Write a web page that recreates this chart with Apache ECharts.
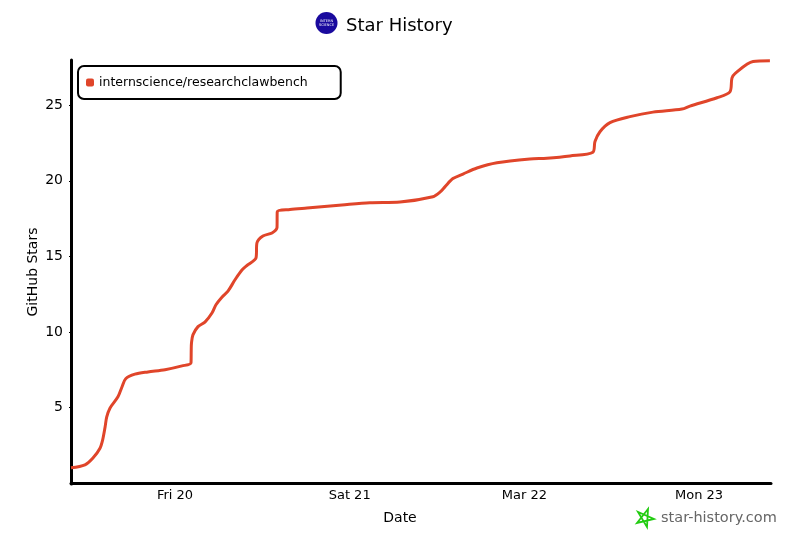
<!DOCTYPE html>
<html>
<head>
<meta charset="utf-8">
<style>html,body{margin:0;padding:0;background:#fff}#c{width:800px;height:533px}</style>
<script src="https://cdn.jsdelivr.net/npm/echarts@6/dist/echarts.min.js"></script>
</head>
<body>
<div id="c"></div>
<script>
const seriesName = 'internscience/researchclawbench';
const times = ['2026-03-19T09:43Z','2026-03-19T11:38Z','2026-03-19T12:44Z','2026-03-19T13:42Z','2026-03-19T14:04Z','2026-03-19T14:23Z','2026-03-19T14:37Z','2026-03-19T15:04Z','2026-03-19T16:10Z','2026-03-19T16:43Z','2026-03-19T17:14Z','2026-03-19T18:30Z','2026-03-19T20:17Z','2026-03-19T22:38Z','2026-03-20T00:58Z','2026-03-20T02:12Z','2026-03-20T02:14Z','2026-03-20T02:16Z','2026-03-20T02:28Z','2026-03-20T03:10Z','2026-03-20T04:07Z','2026-03-20T05:05Z','2026-03-20T05:38Z','2026-03-20T06:27Z','2026-03-20T07:17Z','2026-03-20T08:15Z','2026-03-20T09:12Z','2026-03-20T10:02Z','2026-03-20T11:08Z','2026-03-20T11:16Z','2026-03-20T12:05Z','2026-03-20T13:20Z','2026-03-20T14:01Z','2026-03-20T14:03Z','2026-03-20T15:48Z','2026-03-20T18:08Z','2026-03-20T22:56Z','2026-03-21T02:47Z','2026-03-21T06:55Z','2026-03-21T11:26Z','2026-03-21T12:24Z','2026-03-21T13:05Z','2026-03-21T14:11Z','2026-03-21T15:34Z','2026-03-21T17:29Z','2026-03-21T20:14Z','2026-03-22T00:46Z','2026-03-22T03:06Z','2026-03-22T06:16Z','2026-03-22T09:25Z','2026-03-22T09:42Z','2026-03-22T10:23Z','2026-03-22T11:46Z','2026-03-22T14:30Z','2026-03-22T17:40Z','2026-03-22T21:39Z','2026-03-22T22:45Z','2026-03-23T02:28Z','2026-03-23T04:15Z','2026-03-23T04:31Z','2026-03-23T04:56Z','2026-03-23T07:25Z','2026-03-23T09:44Z'];
const stars = [1.0,1.2,1.65,2.3,2.85,3.65,4.35,4.95,5.7,6.35,6.9,7.2,7.35,7.5,7.75,7.95,8.8,9.25,9.8,10.35,10.65,11.25,11.8,12.3,12.7,13.45,14.1,14.45,14.9,15.9,16.35,16.55,16.9,17.95,18.1,18.2,18.4,18.55,18.6,18.95,19.25,19.6,20.15,20.45,20.85,21.2,21.45,21.5,21.65,21.9,22.6,23.25,23.85,24.25,24.55,24.75,24.95,25.5,25.9,26.8,27.1,27.9,27.95];
const xTickDates = ['2026-03-20T00:00Z','2026-03-21T00:00Z','2026-03-22T00:00Z','2026-03-23T00:00Z'];
const xTickLabels = ['Fri 20','Sat 21','Mar 22','Mon 23'];
const xMin = '2026-03-19T09:43Z';
const xMax = '2026-03-23T09:53Z';
const yTickValues = [5,10,15,20,25];

const font = '"DejaVu Sans"';
const xTicks = xTickDates.map(d => Date.parse(d));
const chart = echarts.init(document.getElementById('c'), null, {renderer:'canvas'});
chart.setOption({
  animation:false,
  backgroundColor:'#fff',
  textStyle:{fontFamily:font,color:'#000'},
  title:{text:'Star History',left:341,top:12,textStyle:{fontFamily:font,fontSize:18,fontWeight:'normal',color:'#000'}},
  grid:{left:71,right:29,top:60,bottom:49},
  legend:{
    left:78,top:66,orient:'horizontal',
    padding:[10,33,10,8],
    backgroundColor:'#fff',borderColor:'#000',borderWidth:2,borderRadius:6,
    icon:'roundRect',itemWidth:8,itemHeight:8,
    textStyle:{fontFamily:font,fontSize:12.5,color:'#000'},
    data:[seriesName]
  },
  xAxis:{
    type:'value',min:Date.parse(xMin),max:Date.parse(xMax),
    name:'Date',nameLocation:'middle',nameGap:27,
    nameTextStyle:{fontFamily:font,fontSize:14,color:'#000',padding:[0,42,0,0]},
    axisLine:{show:true,lineStyle:{color:'#000',width:3}},
    axisTick:{show:true,length:2,lineStyle:{color:'#000',width:1},customValues:xTicks},
    axisLabel:{fontFamily:font,fontSize:13,color:'#000',margin:5,customValues:xTicks,
      formatter:v=>xTickLabels[xTicks.indexOf(+v)]},
    splitLine:{show:false}
  },
  yAxis:{
    type:'value',min:-0.07,max:28,
    name:'GitHub Stars',nameLocation:'middle',nameGap:31,nameMoveOverlap:false,
    nameTextStyle:{fontFamily:font,fontSize:14,color:'#000'},
    axisLine:{show:true,lineStyle:{color:'#000',width:3}},
    axisTick:{show:true,length:2,lineStyle:{color:'#000',width:1},customValues:yTickValues},
    axisLabel:{fontFamily:font,fontSize:14,color:'#000',margin:8,padding:[6,0,0,0],customValues:yTickValues},
    splitLine:{show:false}
  },
  series:[{
    name:seriesName,type:'line',showSymbol:false,smooth:0.3,
    itemStyle:{color:'#e0452a'},
    lineStyle:{color:'#e0452a',width:3},
    data:times.map((t,i)=>[Date.parse(t),stars[i]])
  }],
  graphic:[
    {type:'circle',shape:{cx:326.5,cy:23,r:11},style:{fill:'#1a0a9e'}},
    {type:'text',style:{text:'INTERN\nSCIENCE',x:326.5,y:23,fill:'#fff',fontSize:3.5,lineHeight:4,align:'center',verticalAlign:'middle',fontFamily:font}},
    {type:'polygon',shape:{points:[[648,509],[647,527],[638,512],[654,519],[637,523]]},
      style:{fill:'none',stroke:'#22cc11',lineWidth:1.8}},
    {type:'text',style:{text:'star-history.com',x:661,y:518,fill:'#666',fontSize:14.5,align:'left',verticalAlign:'middle',fontFamily:font}}
  ]
});
</script>
</body>
</html>
